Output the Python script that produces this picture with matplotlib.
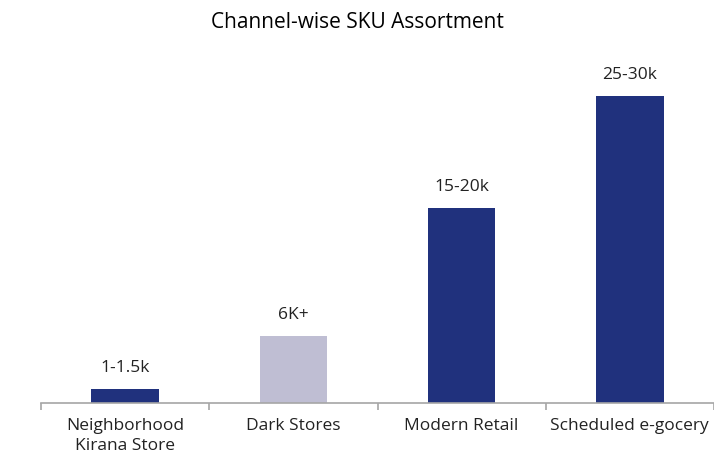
import matplotlib
matplotlib.use("Agg")
import matplotlib.pyplot as plt

categories = ["Neighborhood\nKirana Store", "Dark Stores", "Modern Retail", "Scheduled e-gocery"]
values = [1.25, 6, 17.5, 27.5]
value_labels = ["1-1.5k", "6K+", "15-20k", "25-30k"]
colors = ["#20317D", "#BFBED3", "#20317D", "#20317D"]

plt.rcParams["font.family"] = ["Open Sans", "DejaVu Sans"]

fig = plt.figure(figsize=(7.14, 4.65), dpi=100)
ax = fig.add_axes([41 / 714, 62 / 465, 1 - 41 / 714, 357 / 465])

x = list(range(len(categories)))
bars = ax.bar(x, values, width=0.40, color=colors)
for b, lab in zip(bars, value_labels):
    ax.annotate(lab, (b.get_x() + b.get_width() / 2, b.get_height()),
                xytext=(0, 12.2), textcoords="offset points",
                ha="center", va="baseline", fontsize=12.5, color="#222222")

ax.set_xlim(-0.5, len(categories) - 0.5)
ax.set_ylim(0, 32)
ax.set_yticks([])
for s in ["top", "right", "left"]:
    ax.spines[s].set_visible(False)
ax.spines["bottom"].set_color("#A6A6A6")
ax.spines["bottom"].set_linewidth(1.2)

ax.set_xticks([i - 0.5 for i in range(len(categories) + 1)], minor=False)
ax.set_xticklabels([])
ax.tick_params(axis="x", which="major", length=5, color="#A6A6A6", width=1.2)
ax.set_xticks(x, minor=True)
ax.set_xticklabels(categories, minor=True, fontsize=12.5, color="#222222",
                   linespacing=1.35)
ax.tick_params(axis="x", which="minor", length=0, pad=11)

fig.text(0.5, 1 - 22 / 465, "Channel-wise SKU Assortment", ha="center", va="center",
         fontsize=15, color="#000000")

fig.savefig("out.png", dpi=100)
